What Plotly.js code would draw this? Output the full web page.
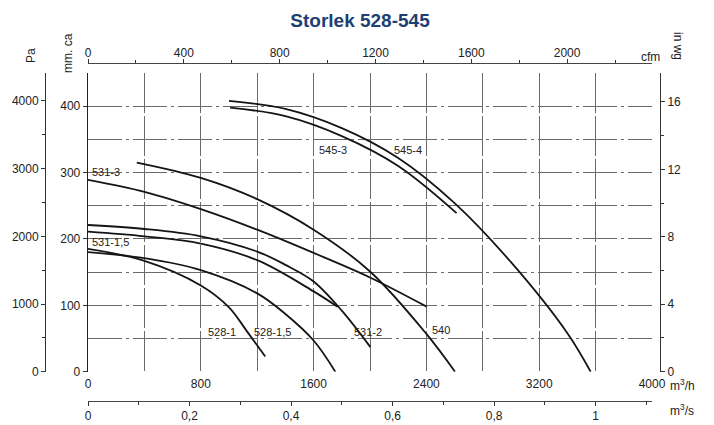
<!DOCTYPE html>
<html>
<head>
<meta charset="utf-8">
<script src="https://cdn.plot.ly/plotly-3.0.1.min.js"></script>
<style>html,body{margin:0;padding:0;background:#fff;}#chart{width:714px;height:425px;}</style>
</head>
<body>
<div id="chart"></div>
<script>
// ---- Data (airflow in m3/h, pressure in mm water column) ----
const curveNames = ["528-1", "528-1,5", "531-1,5", "531-2", "531-3", "540", "545-3", "545-4"];
const flow_528_1   = [0, 400, 800, 1000, 1130, 1257];
const press_528_1  = [185, 167, 130, 97, 60, 23];
const flow_528_15  = [0, 400, 800, 1200, 1400, 1600, 1754];
const press_528_15 = [180, 171, 153, 118, 87, 47, 0];
const flow_531_15  = [0, 400, 800, 1200, 1600, 1769];
const press_531_15 = [211, 204, 193, 168, 121, 98];
const flow_531_2   = [0, 400, 800, 1200, 1400, 1600, 1800, 2003];
const press_531_2  = [221, 215, 204, 181, 161, 136, 92, 37];
const flow_531_3   = [0, 400, 800, 1200, 1600, 2000, 2402];
const press_531_3  = [289, 271, 245, 214, 179, 142, 98];
const flow_540     = [346, 800, 1200, 1600, 2000, 2400, 2603];
const press_540    = [315, 292, 260, 214, 151, 57, 0];
const flow_545_3   = [1008, 1400, 1800, 2200, 2614];
const press_545_3  = [398, 385, 355, 310, 239];
const flow_545_4   = [1000, 1400, 1800, 2200, 2600, 3000, 3400, 3565];
const press_545_4  = [408, 396, 367, 322, 254, 165, 58, 0];

// label anchor points (m3/h, mm ca)
const labelText = ["545-3", "545-4", "531-3", "531-1,5", "528-1", "528-1,5", "531-2", "540"];
const labelX    = [1740, 2273, 128, 156, 952, 1307, 1989, 2507];
const labelY    = [334, 334, 301, 196, 60, 60, 60, 63];

// axis ticks
const flowTicks = [0, 800, 1600, 2400, 3200, 4000];
const flowGridMinor = [400, 1200, 2000, 2800, 3600];
const m3sTicks  = [0, 0.2, 0.4, 0.6, 0.8, 1];
const m3sText   = ["0", "0,2", "0,4", "0,6", "0,8", "1"];
const cfmTicks  = [0, 400, 800, 1200, 1600, 2000];
const paTicks   = [0, 1000, 2000, 3000, 4000];
const mmTicks   = [0, 100, 200, 300, 400];
const mmGridMinor = [50, 150, 250, 350, 450];
const inwgTicks = [0, 4, 8, 12, 16];

// unit conversions
const FLOW_MAX = 4000, MM_MAX = 450;
const CFM_PER_M3H = 1 / 1.69901, PA_PER_MM = 9.80665, INWG_PER_MM = 1 / 25.4;

const flows = [flow_528_1, flow_528_15, flow_531_15, flow_531_2, flow_531_3, flow_540, flow_545_3, flow_545_4];
const presses = [press_528_1, press_528_15, press_531_15, press_531_2, press_531_3, press_540, press_545_3, press_545_4];

const traces = curveNames.map((n, i) => ({
  type: 'scatter', mode: 'lines', name: n,
  x: flows[i], y: presses[i],
  line: {color: '#151515', width: 1.8, shape: 'spline', smoothing: 1},
  hoverinfo: 'skip', showlegend: false
}));
// empty traces to register the secondary axes
traces.push({type:'scatter', x:[], y:[], xaxis:'x2', yaxis:'y', showlegend:false, hoverinfo:'skip'});
traces.push({type:'scatter', x:[], y:[], xaxis:'x3', yaxis:'y', showlegend:false, hoverinfo:'skip'});
traces.push({type:'scatter', x:[], y:[], xaxis:'x', yaxis:'y2', showlegend:false, hoverinfo:'skip'});
traces.push({type:'scatter', x:[], y:[], xaxis:'x', yaxis:'y3', showlegend:false, hoverinfo:'skip'});

const FONT = 'Liberation Sans, Arial, sans-serif';
const tickFont = {family: FONT, size: 12, color: '#222'};
const gridCol = '#6a6a6a';

// paper geometry helpers (pixels -> paper fractions)
const L = 45, R = 54, T = 63, B = 24, W = 714, H = 425;
const PW = W - L - R, PH = H - T - B;
const px = v => (v - L) / PW;
const py = v => (H - B - v) / PH;

const annotations = labelText.map((t, i) => ({
  text: t, x: labelX[i], y: labelY[i], xref: 'x', yref: 'y', xanchor: 'center', yanchor: 'middle',
  showarrow: false, font: {family: FONT, size: 11, color: '#222'}
}));
const axTitles = [
  {text: 'Pa', x: px(31), y: py(56), textangle: -90},
  {text: 'mm. ca', x: px(68), y: py(53), textangle: -90},
  {text: 'in wg', x: px(678), y: py(46), textangle: 90},
  {text: 'cfm', x: px(650), y: py(57), textangle: 0},
  {text: 'm<sup>3</sup>/h', x: px(682), y: py(385), textangle: 0},
  {text: 'm<sup>3</sup>/s', x: px(682), y: py(410), textangle: 0}
];
axTitles.forEach(a => annotations.push({
  text: a.text, x: a.x, y: a.y, xref: 'paper', yref: 'paper', textangle: a.textangle,
  xanchor: 'center', yanchor: 'middle',
  showarrow: false, font: {family: FONT, size: 12, color: '#222'}
}));

const xDom = [px(88), px(652)];
const yDom = [py(371.7), py(73)];

const layout = {
  width: W, height: H,
  margin: {l: L, r: R, t: T, b: B, pad: 0},
  paper_bgcolor: '#fff', plot_bgcolor: '#fff',
  showlegend: false,
  title: {text: '<b>Storlek 528-545</b>', font: {family: FONT, size: 19, color: '#1d3f73'},
          x: 360 / W, xref: 'container', xanchor: 'center', y: 1 - 20 / H, yref: 'container', yanchor: 'middle'},
  xaxis: {
    domain: xDom, range: [0, FLOW_MAX], tickvals: flowTicks, ticks: '', ticklen: 0, ticklabelstandoff: 3,
    showline: false, zeroline: false, showgrid: true, gridcolor: gridCol, gridwidth: 1, griddash: '40px,3px',
    minor: {tickvals: flowGridMinor, showgrid: true, gridcolor: gridCol, gridwidth: 1, griddash: '40px,3px'},
    tickfont: tickFont, anchor: 'y', fixedrange: true
  },
  yaxis: {
    domain: yDom, range: [0, MM_MAX], tickvals: mmTicks, ticks: 'outside', ticklen: 4, tickcolor: '#333',
    showline: true, linecolor: '#222', linewidth: 1.3, zeroline: false,
    showgrid: true, gridcolor: gridCol, gridwidth: 1, griddash: '34px,4px,3px,4px',
    minor: {tickvals: mmGridMinor, showgrid: true, gridcolor: gridCol, gridwidth: 1, griddash: '34px,4px,3px,4px'},
    tickfont: tickFont, anchor: 'x', fixedrange: true
  },
  xaxis2: {
    overlaying: 'x', side: 'top', anchor: 'free', position: 1,
    range: [0, FLOW_MAX * CFM_PER_M3H], tickvals: cfmTicks, ticks: 'outside', ticklen: 4, tickcolor: '#333',
    ticklabelstandoff: -3,
    minor: {dtick: 200, tick0: 0, ticks: 'outside', ticklen: 3, tickcolor: '#333'},
    showline: true, linecolor: '#444', linewidth: 1, showgrid: false, zeroline: false,
    tickfont: tickFont, fixedrange: true
  },
  xaxis3: {
    overlaying: 'x', side: 'bottom', anchor: 'free', position: 0,
    range: [0, FLOW_MAX / 3600], tickvals: m3sTicks, ticktext: m3sText, ticks: 'outside', ticklen: 4, tickcolor: '#333',
    minor: {dtick: 0.1, tick0: 0, ticks: 'outside', ticklen: 3, tickcolor: '#333'},
    showline: true, linecolor: '#444', linewidth: 1, showgrid: false, zeroline: false,
    tickfont: tickFont, fixedrange: true
  },
  yaxis2: {
    overlaying: 'y', side: 'left', anchor: 'free', position: 0,
    range: [0, MM_MAX * PA_PER_MM], tickvals: paTicks, ticks: 'outside', ticklen: 4, tickcolor: '#333',
    minor: {dtick: 500, tick0: 0, ticks: 'outside', ticklen: 3, tickcolor: '#333'},
    showline: true, linecolor: '#333', linewidth: 1, showgrid: false, zeroline: false,
    tickfont: tickFont, fixedrange: true
  },
  yaxis3: {
    overlaying: 'y', side: 'right', anchor: 'free', position: 1,
    range: [0, MM_MAX * INWG_PER_MM], tickvals: inwgTicks, ticks: 'outside', ticklen: 4, tickcolor: '#333',
    minor: {dtick: 2, tick0: 0, ticks: 'outside', ticklen: 3, tickcolor: '#333'},
    showline: true, linecolor: '#333', linewidth: 1, showgrid: false, zeroline: false,
    tickfont: tickFont, fixedrange: true
  },
  annotations: annotations
};

Plotly.newPlot('chart', traces, layout, {displayModeBar: false, staticPlot: true});
</script>
</body>
</html>
